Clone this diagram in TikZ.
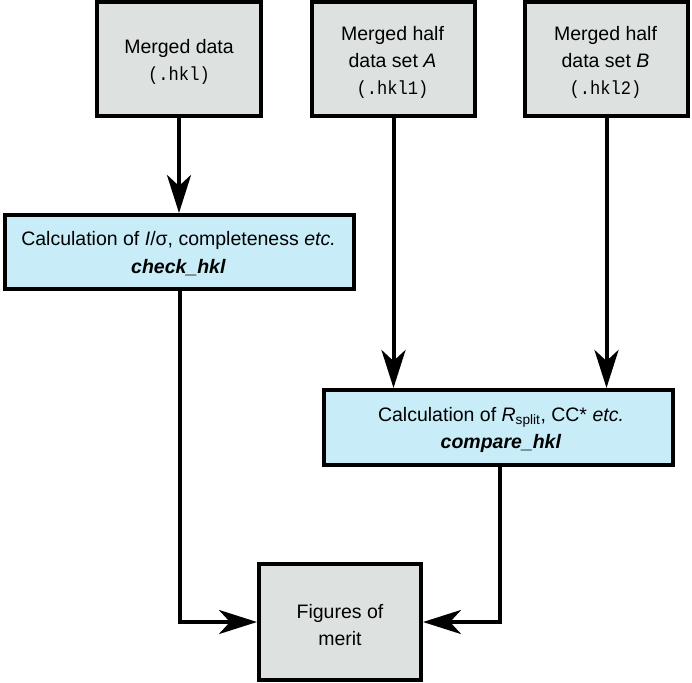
\documentclass[tikz,border=0pt]{standalone}
\usepackage{fontspec}
\setmainfont{Liberation Sans}
\newfontfamily\monof[FakeStretch=0.9]{Liberation Mono}
\usetikzlibrary{arrows.meta,calc}
\definecolor{boxgrey}{RGB}{221,226,225}
\definecolor{boxblue}{RGB}{200,237,248}
\tikzset{
  databox/.style={draw=black, line width=4pt, fill=boxgrey, inner sep=0pt},
  calcbox/.style={draw=black, line width=4pt, fill=boxblue, inner sep=0pt},
  txt/.style={anchor=base, inner sep=0pt, font=\fontsize{19.5}{24}\selectfont},
  flow/.style={line width=4pt, -{Stealth[length=38pt,width=24pt,inset=11pt]}},
}
\newcommand{\hklf}[1]{{\monof\fontsize{19}{24}\selectfont #1}}
\begin{document}
\begin{tikzpicture}[x=1pt,y=-1pt]
\useasboundingbox (0,0) rectangle (692,682);
% boxes
\node[databox, minimum width=164pt, minimum height=114pt] (m) at (179,59) {};
\node[databox, minimum width=163pt, minimum height=114pt] (a) at (393.5,59) {};
\node[databox, minimum width=163pt, minimum height=114pt] (b) at (606.5,59) {};
\node[calcbox, minimum width=349pt, minimum height=74pt] (c1) at (179.5,252) {};
\node[calcbox, minimum width=349pt, minimum height=75pt] (c2) at (498.5,427.5) {};
\node[databox, minimum width=162pt, minimum height=116pt] (f) at (340,622) {};
% texts
\node[txt] (m1) at (179,54) {Merged data};
\node[txt] (m2) at (179,81) {\hklf{(.hkl)}};
\node[txt] (a1) at (392.5,41) {Merged half};
\node[txt] (a2) at (392.5,68) {data set \textit{A}};
\node[txt] (a3) at (392.5,95) {\hklf{(.hkl1)}};
\node[txt] (b1) at (605.5,41) {Merged half};
\node[txt] (b2) at (605.5,68) {data set \textit{B}};
\node[txt] (b3) at (605.5,95) {\hklf{(.hkl2)}};
\node[txt] (c1a) at (178.5,245) {Calculation of \textit{I}/σ, completeness \textit{etc.}};
\node[txt] (c1b) at (178.5,273) {\textbf{\textit{check\_hkl}}};
\node[txt] (c2a) at (501,421) {Calculation of \textit{R}\textsubscript{split}, CC* \textit{etc.}};
\node[txt] (c2b) at (501,448) {\textbf{\textit{compare\_hkl}}};
\node[txt] (f1) at (340,618) {Figures of};
\node[txt] (f2) at (340,645) {merit};
% connectors
\draw[flow] (m.south) -- (m.south |- c1.north);
\draw[flow] (a.south) -- (a.south |- c2.north);
\draw[flow] (b.south) -- (b.south |- c2.north);
\draw[flow] (c1.south) |- (f.west);
\draw[flow] ($(c2.south)+(1.5,0)$) |- (f.east);
\end{tikzpicture}
\end{document}
